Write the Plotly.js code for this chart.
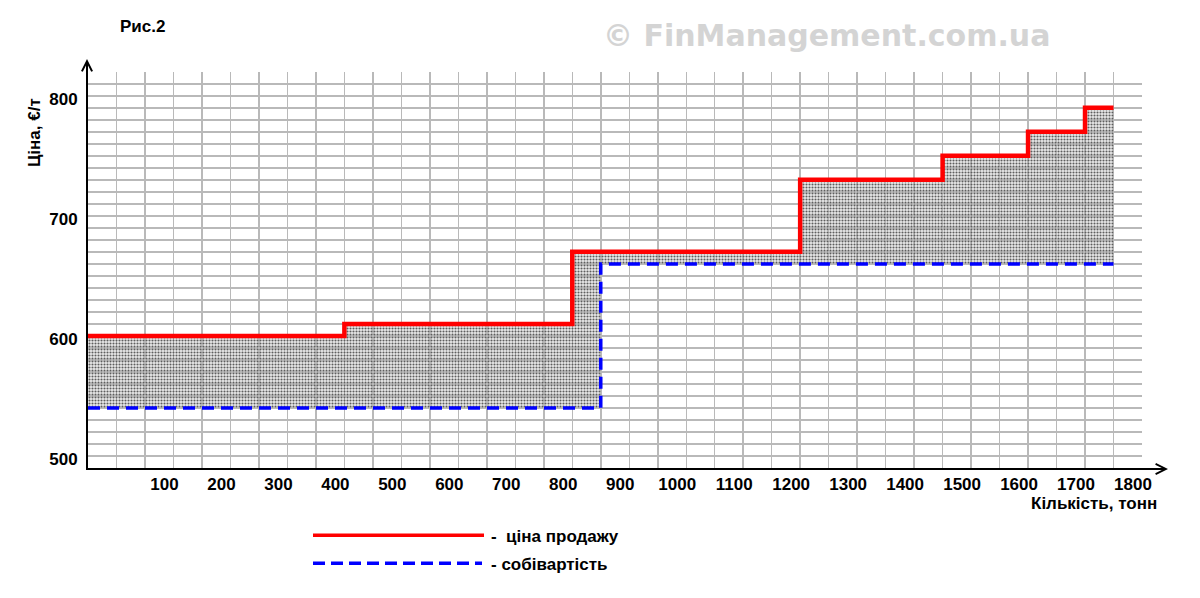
<!DOCTYPE html>
<html>
<head>
<meta charset="utf-8">
<script src="https://cdn.plot.ly/plotly-3.0.1.min.js"></script>
<style>html,body{margin:0;padding:0;background:#fff}#chart{width:1200px;height:598px}</style>
</head>
<body>
<div id="chart"></div>
<script>
// ---- data ----
const priceX = [-50, 400, 800, 1200, 1450, 1600, 1700, 1750];
const priceY = [600, 610, 670, 730, 750, 770, 790, 790];
const costX = [-50, 850, 1750];
const costY = [540, 660, 660];
const xTickVals = [100, 200, 300, 400, 500, 600, 700, 800, 900, 1000, 1100, 1200, 1300, 1400, 1500, 1600, 1700, 1800];
const yTickVals = [500, 600, 700, 800];
const priceName = 'ціна продажу';
const costName = 'собівартість';
const xTitle = 'Кількість, тонн';
const yTitle = 'Ціна, €/т';
const figTitle = 'Рис.2';
const watermark = '© FinManagement.com.ua';

// ---- geometry helpers (pixel -> paper) ----
const W = 1200, H = 598;
const M = {l: 88, r: 58, t: 72, b: 130.3};
const PW = W - M.l - M.r, PH = H - M.t - M.b;
const px = x => (x - M.l) / PW;
const py = y => (H - M.b - y) / PH;

const FONT = 'Liberation Sans, Arial, sans-serif';
const gridCol = '#b9b9b9';

const traces = [
  // carrier for the vertical grid axis (invisible)
  {x: costX, y: costY, xaxis: 'x2', yaxis: 'y', mode: 'lines', line: {width: 0}, opacity: 0, hoverinfo: 'skip', showlegend: false},
  {x: costX, y: costY, mode: 'lines', line: {shape: 'hv', width: 0}, hoverinfo: 'skip', showlegend: false},
  {x: priceX, y: priceY, mode: 'lines', line: {shape: 'hv', width: 0}, fill: 'tonexty',
   fillcolor: 'rgba(200,200,200,0.4)',
   fillpattern: {shape: '.', fgcolor: '#5e5e5e', bgcolor: 'rgba(205,205,205,0.4)', size: 3, solidity: 0.4},
   hoverinfo: 'skip', showlegend: false},
  {x: costX, y: costY, name: costName, mode: 'lines', line: {shape: 'hv', width: 3.5, color: '#0000ff', dash: '12px,7px'}, showlegend: false},
  {x: priceX, y: priceY, name: priceName, mode: 'lines', line: {shape: 'hv', width: 4.5, color: '#ff0000'}, showlegend: false}
];

const layout = {
  width: W, height: H,
  margin: M,
  paper_bgcolor: '#ffffff', plot_bgcolor: '#ffffff',
  font: {family: FONT, color: '#000', size: 17},
  showlegend: false,
  xaxis: {
    range: [-50, 1800], tickvals: xTickVals, ticks: '', showgrid: false, zeroline: false,
    showline: true, linecolor: '#000', linewidth: 2,
    tickfont: {family: FONT, size: 17, weight: 'bold'}, ticklabelshift: -9, ticklabelstandoff: 0
  },
  xaxis2: {
    overlaying: 'x', anchor: 'y', range: [-50, 1799.9], tick0: 0, dtick: 50,
    showticklabels: false, ticks: '', zeroline: false, showline: false,
    showgrid: true, gridcolor: gridCol, gridwidth: 1.5
  },
  yaxis: {
    range: [490, 819.8], tickvals: yTickVals, ticks: '', showgrid: false, zeroline: false,
    showline: true, linecolor: '#000', linewidth: 2,
    tickfont: {family: FONT, size: 17, weight: 'bold'}, ticklabelshift: 3, ticklabelstandoff: 5,
    minor: {dtick: 10, tick0: 0, showgrid: true, gridcolor: gridCol, gridwidth: 1.5}
  },
  shapes: [
    {type: 'line', xref: 'paper', yref: 'paper', x0: px(313), x1: px(484), y0: py(535), y1: py(535), line: {color: '#ff0000', width: 3.5}},
    {type: 'line', xref: 'paper', yref: 'paper', x0: px(313), x1: px(482), y0: py(563), y1: py(563), line: {color: '#0000ff', width: 3.5, dash: '12px,6px'}}
  ],
  annotations: [
    // axis arrows
    {xref: 'paper', yref: 'paper', x: px(1168), y: py(468.7), ax: -60, ay: 0, text: ' ', showarrow: true, arrowhead: 5, arrowsize: 1, arrowwidth: 2, arrowcolor: '#000'},
    {xref: 'paper', yref: 'paper', x: px(87), y: py(59), ax: 0, ay: 60, text: ' ', showarrow: true, arrowhead: 5, arrowsize: 1, arrowwidth: 2, arrowcolor: '#000'},
    // titles
    {xref: 'paper', yref: 'paper', x: px(142), y: py(27), text: '<b>' + figTitle + '</b>', showarrow: false, xanchor: 'center', yanchor: 'middle', font: {size: 17}},
    {xref: 'paper', yref: 'paper', x: px(826), y: py(36), text: '<b>' + watermark + '</b>', showarrow: false, xanchor: 'center', yanchor: 'middle', font: {family: 'DejaVu Sans, sans-serif', size: 30, color: '#d4d4d4'}},
    {xref: 'paper', yref: 'paper', x: px(1159), y: py(503), text: '<b>' + xTitle + '</b>', showarrow: false, xanchor: 'right', yanchor: 'middle', font: {size: 17}},
    {xref: 'paper', yref: 'paper', x: px(34), y: py(133), text: '<b>' + yTitle + '</b>', textangle: -90, showarrow: false, xanchor: 'center', yanchor: 'middle', font: {size: 17}},
    // legend texts
    {xref: 'paper', yref: 'paper', x: px(489), y: py(536), text: '<b>-  ' + priceName + '</b>', showarrow: false, xanchor: 'left', yanchor: 'middle', font: {size: 17}},
    {xref: 'paper', yref: 'paper', x: px(489), y: py(564), text: '<b>- ' + costName + '</b>', showarrow: false, xanchor: 'left', yanchor: 'middle', font: {size: 17}}
  ]
};

Plotly.newPlot('chart', traces, layout, {displayModeBar: false, staticPlot: true});
</script>
</body>
</html>
